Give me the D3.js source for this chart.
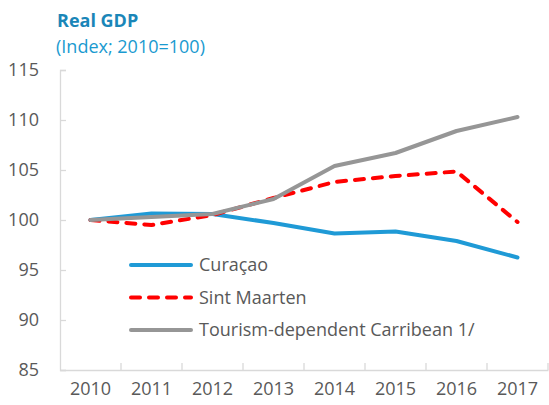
<!DOCTYPE html>
<html>
<head>
<meta charset="utf-8">
<script src="https://cdn.jsdelivr.net/npm/d3@7"></script>
<style>
  body { margin: 0; background: #fff; }
  text { font-family: "Open Sans", "Noto Sans", sans-serif; }
</style>
</head>
<body>
<svg id="chart" width="549" height="405"></svg>
<script>
var years = ["2010", "2011", "2012", "2013", "2014", "2015", "2016", "2017"];
var yTicks = [85, 90, 95, 100, 105, 110, 115];
var curacao = [100, 100.65, 100.6, 99.7, 98.65, 98.85, 97.9, 96.25];
var sintMaarten = [100, 99.5, 100.5, 102.2, 103.8, 104.4, 104.85, 99.8];
var tourism = [100, 100.3, 100.6, 102.1, 105.4, 106.7, 108.9, 110.3];
var seriesNames = ["Curaçao", "Sint Maarten", "Tourism-dependent Carribean 1/"];
var seriesColors = ["#1f9ad6", "#ff0000", "#969696"];

var svg = d3.select("#chart");
var padLeft = 60, padRight = 548, padTop = 70, padBottom = 370;

var x = d3.scaleBand().domain(years).range([padLeft, padRight]);
var y = d3.scaleLinear().domain([85, 115]).range([padBottom, padTop]);

// titles
svg.append("text").attr("x", 57).attr("y", 27)
  .attr("font-size", 18).attr("font-weight", "bold").attr("fill", "#1a86b8")
  .text("Real GDP");
svg.append("text").attr("x", 56).attr("y", 53)
  .attr("font-size", 18).attr("fill", "#1a9ad0")
  .text("(Index; 2010=100)");

// axes
var yAxis = svg.append("g").attr("transform", "translate(" + padLeft + ",0)")
  .call(d3.axisLeft(y).tickValues(yTicks).tickSize(-6).tickPadding(21));
var xAxis = svg.append("g").attr("transform", "translate(0," + padBottom + ")")
  .call(d3.axisBottom(x).tickSize(0).tickPadding(12));

[yAxis, xAxis].forEach(function(a) {
  a.select(".domain").attr("stroke", "#d9d9d9").attr("stroke-width", 1.3);
  a.selectAll(".tick line").attr("stroke", "#d9d9d9").attr("stroke-width", 1.3);
  a.selectAll("text").attr("font-size", 18).attr("fill", "#595959")
    .attr("font-family", "'Open Sans', sans-serif");
});

// x tick marks between categories
xAxis.selectAll(".sep")
  .data(years)
  .enter().append("line")
    .attr("x1", function(d) { return x(d) + x.bandwidth(); })
    .attr("x2", function(d) { return x(d) + x.bandwidth(); })
    .attr("y1", 0).attr("y2", -7)
    .attr("stroke", "#d9d9d9").attr("stroke-width", 1.3);

var line = d3.line()
  .x(function(d, i) { return x(years[i]) + x.bandwidth() / 2; })
  .y(function(d) { return y(d); });

var allSeries = [curacao, sintMaarten, tourism];
var dashes = [null, "9,9", null];

allSeries.forEach(function(s, i) {
  svg.append("path").datum(s)
    .attr("d", line)
    .attr("fill", "none")
    .attr("stroke", seriesColors[i])
    .attr("stroke-width", 4)
    .attr("stroke-linejoin", "round")
    .attr("stroke-linecap", "round")
    .attr("stroke-dasharray", dashes[i]);
});

// legend
var legendY = [265, 297.5, 330];
seriesNames.forEach(function(name, i) {
  var g = svg.append("g");
  g.append("line")
    .attr("x1", 131).attr("x2", 191)
    .attr("y1", legendY[i]).attr("y2", legendY[i])
    .attr("stroke", seriesColors[i]).attr("stroke-width", 4)
    .attr("stroke-linecap", "round")
    .attr("stroke-dasharray", dashes[i]);
  g.append("text")
    .attr("x", 199).attr("y", legendY[i]).attr("dy", "0.35em")
    .attr("font-size", 18).attr("fill", "#595959")
    .text(name);
});
</script>
</body>
</html>
